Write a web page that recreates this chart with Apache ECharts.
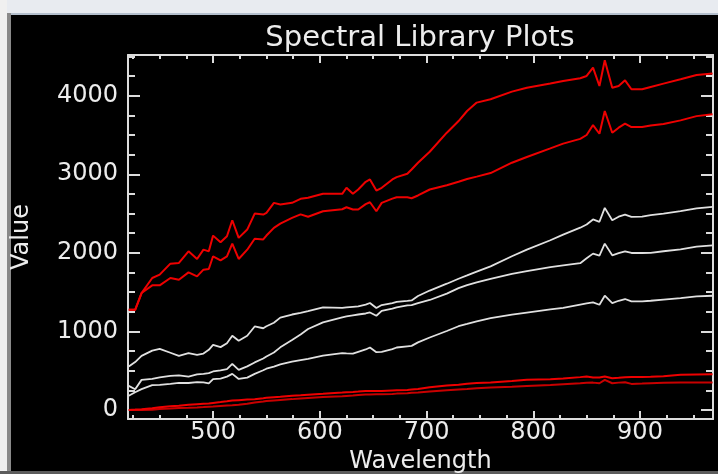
<!DOCTYPE html>
<html>
<head>
<meta charset="utf-8">
<title>Spectral Library Plots</title>
<script src="https://cdn.jsdelivr.net/npm/echarts@6/dist/echarts.min.js"></script>
<style>
  html, body { margin: 0; padding: 0; background: #000; }
  #chart { width: 718px; height: 474px; }
</style>
</head>
<body>
<div id="chart"></div>
<script>
// Band centres (nm) shared by every spectrum in the library
const wavelength = [421,427,433,443,450,460,468,477,485,491,496,500,507,513,518,524,532,539,547,550,557,563,574,582,589,603,621,625,631,636,643,647,653,658,668,672,682,686,692,703,719,730,738,747,760,780,794,816,828,844,850,856,862,867,874,880,886,892,902,910,922,938,953,968];

// Bright spectra (red)
const redHigh = [1275,1275,1488,1680,1722,1862,1871,2019,1922,2041,2019,2219,2134,2211,2415,2190,2296,2500,2487,2509,2636,2615,2636,2687,2700,2751,2751,2828,2751,2806,2904,2934,2793,2828,2934,2963,3006,3061,3147,3287,3529,3677,3805,3912,3954,4052,4102,4154,4188,4222,4251,4358,4124,4452,4102,4124,4196,4082,4082,4111,4154,4209,4264,4282];
const redMid = [1275,1275,1488,1586,1586,1680,1658,1751,1700,1786,1794,1956,1905,1956,2117,1922,2040,2180,2170,2220,2318,2372,2445,2490,2460,2530,2555,2580,2551,2551,2620,2644,2529,2636,2690,2708,2708,2695,2730,2806,2860,2905,2940,2970,3015,3147,3220,3329,3390,3450,3500,3626,3516,3805,3529,3593,3644,3601,3601,3620,3640,3686,3740,3763];

// Intermediate spectra (white)
const whiteHigh = [552,610,688,755,778,728,688,723,702,718,765,829,800,850,944,880,944,1063,1040,1065,1110,1175,1215,1237,1258,1305,1300,1305,1312,1318,1340,1361,1297,1335,1360,1375,1388,1394,1450,1520,1607,1670,1712,1760,1828,1957,2040,2160,2232,2320,2360,2425,2395,2572,2415,2460,2487,2458,2460,2480,2500,2530,2565,2585];
const whiteMid = [306,264,383,395,415,435,440,425,452,460,468,490,505,519,587,510,555,605,655,680,731,797,890,960,1030,1115,1180,1192,1205,1215,1228,1241,1199,1262,1290,1305,1330,1334,1360,1400,1480,1550,1590,1625,1670,1732,1766,1818,1840,1868,1930,1990,1964,2117,1968,1995,2019,1998,1998,2000,2020,2045,2080,2096];
const whiteLow = [180,225,265,315,320,333,345,343,355,350,338,392,400,425,459,395,412,460,505,525,552,580,615,635,650,692,723,720,716,740,770,795,735,740,775,795,810,816,860,922,1005,1066,1095,1128,1168,1214,1240,1280,1300,1342,1358,1369,1339,1454,1361,1390,1412,1381,1381,1390,1405,1424,1445,1454];

// Dark spectra (red, near zero)
const redLowA = [0,5,10,21,35,48,55,65,73,78,82,90,100,110,119,125,132,137,150,155,162,168,182,188,195,206,222,226,230,234,240,242,242,242,248,250,255,260,266,290,310,322,335,342,350,370,385,392,402,418,425,412,412,425,404,410,417,418,420,422,430,448,452,455];
const redLowB = [0,0,0,2,12,18,24,28,32,37,42,45,51,56,60,66,78,95,108,115,122,128,138,146,152,164,175,179,184,190,196,198,200,200,204,208,214,218,221,234,252,262,268,276,285,296,306,318,328,340,346,348,340,383,340,348,353,332,336,340,345,348,348,348];

// Axis ticks
const xMajorTicks = [500,600,700,800,900];
const xMinorTicks = [425,450,475,525,550,575,625,650,675,725,750,775,825,850,875,925,950];
const yMajorTicks = [0,1000,2000,3000,4000];
const yMinorTicks = [250,500,750,1250,1500,1750,2250,2500,2750,3250,3500,3750,4250,4500];

const X_MIN = 420.3, X_MAX = 968.4;
const Y_MIN = -115, Y_MAX = 4518;

const FRAME = '#dcdcdc';
const TEXT = '#ececec';
const FONT = 'DejaVu Sans';

function pairs(values) {
  return wavelength.map((w, i) => [w, values[i]]);
}

function plainNumber(v) { return String(v); }

function tickAxis(kind, position, ticks, len, extra) {
  const base = {
    type: 'value',
    position: position,
    min: kind === 'x' ? X_MIN : Y_MIN,
    max: kind === 'x' ? X_MAX : Y_MAX,
    axisLine: { show: false, onZero: false },
    axisTick: { show: true, inside: true, length: len, customValues: ticks,
                lineStyle: { color: FRAME, width: 2 } },
    axisLabel: { show: false },
    splitLine: { show: false },
    minorTick: { show: false }
  };
  return Object.assign(base, extra || {});
}

const frameLine = { show: true, onZero: false, lineStyle: { color: FRAME, width: 2 } };

const xAxes = [
  tickAxis('x', 'bottom', xMajorTicks, 8, {
    axisLine: frameLine,
    axisLabel: { show: true, customValues: xMajorTicks, formatter: plainNumber,
                 color: TEXT, fontFamily: FONT, fontSize: 24, margin: 2 },
    name: 'Wavelength', nameLocation: 'middle', nameGap: 22,
    nameTextStyle: { color: TEXT, fontFamily: FONT, fontSize: 24 }
  }),
  tickAxis('x', 'bottom', xMinorTicks, 4),
  tickAxis('x', 'top', xMajorTicks, 8, { axisLine: frameLine }),
  tickAxis('x', 'top', xMinorTicks, 4)
];

const yAxes = [
  tickAxis('y', 'left', yMajorTicks, 12, {
    axisLine: frameLine,
    axisLabel: { show: true, customValues: yMajorTicks, formatter: plainNumber,
                 color: TEXT, fontFamily: FONT, fontSize: 24, margin: 10 },
    name: 'Value', nameLocation: 'middle', nameGap: 94, nameRotate: 90,
    nameTextStyle: { color: TEXT, fontFamily: FONT, fontSize: 24 }
  }),
  tickAxis('y', 'left', yMinorTicks, 7),
  tickAxis('y', 'right', yMajorTicks, 12, { axisLine: frameLine }),
  tickAxis('y', 'right', yMinorTicks, 7)
];

function line(name, values, color, width) {
  return {
    name: name, type: 'line', xAxisIndex: 0, yAxisIndex: 0,
    data: pairs(values), showSymbol: false, symbol: 'none',
    lineStyle: { color: color, width: width }, z: 3
  };
}

const chart = echarts.init(document.getElementById('chart'), null, { renderer: 'canvas' });
chart.setOption({
  backgroundColor: '#000000',
  animation: false,
  grid: { left: 128, right: 5, top: 55, bottom: 55, outerBoundsMode: 'none' },
  xAxis: xAxes,
  yAxis: yAxes,
  series: [
    line('redLowB', redLowB, '#c80000', 2),
    line('redLowA', redLowA, '#ee0000', 2),
    line('whiteLow', whiteLow, '#e0e0e0', 1.8),
    line('whiteMid', whiteMid, '#e0e0e0', 1.8),
    line('whiteHigh', whiteHigh, '#e0e0e0', 1.8),
    line('redMid', redMid, '#ee0000', 2),
    line('redHigh', redHigh, '#ee0000', 2)
  ],
  graphic: [
    // window chrome around the plot window
    { type: 'rect', shape: { x: 0, y: 0, width: 718, height: 13 }, style: { fill: '#e8ebf0' }, silent: true },
    { type: 'rect', shape: { x: 0, y: 13, width: 718, height: 2 }, style: { fill: '#b4bfcd' }, silent: true },
    { type: 'rect', shape: { x: 0, y: 0, width: 7, height: 474 }, style: { fill: '#f0f0f0' }, silent: true },
    { type: 'rect', shape: { x: 7, y: 13, width: 4, height: 461 }, style: { fill: '#8a8a8a' }, silent: true },
    { type: 'rect', shape: { x: 0, y: 471, width: 718, height: 3 }, style: { fill: '#5c5c5c' }, silent: true },
    {
      type: 'text', x: 420, y: 38,
      style: { text: 'Spectral Library Plots', fill: TEXT, font: '29px "DejaVu Sans"',
               align: 'center', verticalAlign: 'middle' },
      silent: true
    }
  ]
});
</script>
</body>
</html>
